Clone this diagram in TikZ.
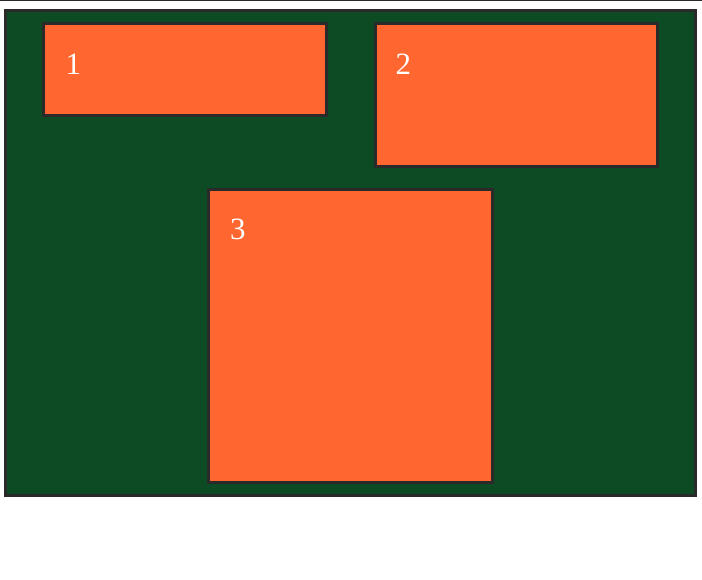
\documentclass[tikz,border=0pt]{standalone}
\usepackage{fontspec}
\setmainfont{Liberation Serif}
\definecolor{bggreen}{HTML}{0C4B24}
\definecolor{boxorange}{HTML}{FF6630}
\definecolor{edgegray}{HTML}{2A2A2A}
\tikzset{
  panel/.style={draw=edgegray, line width=3pt, fill=bggreen},
  boxst/.style={draw=edgegray, line width=3pt, fill=boxorange},
  lbl/.style={text=white, font=\fontsize{31}{31}\selectfont, anchor=base west, inner sep=0pt},
}
\begin{document}
\begin{tikzpicture}[x=1pt,y=-1pt]
\useasboundingbox (0,0) rectangle (702,580);
\fill[edgegray] (0,0) rectangle (702,1.5);
\draw[panel] (5.5,11) rectangle (695,495.5);
\draw[boxst] (43.5,23.5) rectangle (326,116);
\draw[boxst] (375,23.5) rectangle (657.5,166.5);
\draw[boxst] (208.5,189.5) rectangle (492,482);
\node[lbl] (n1) at (65.5,75) {1};
\node[lbl] (n2) at (395.5,75) {2};
\node[lbl] (n3) at (230,240) {3};
\end{tikzpicture}
\end{document}
